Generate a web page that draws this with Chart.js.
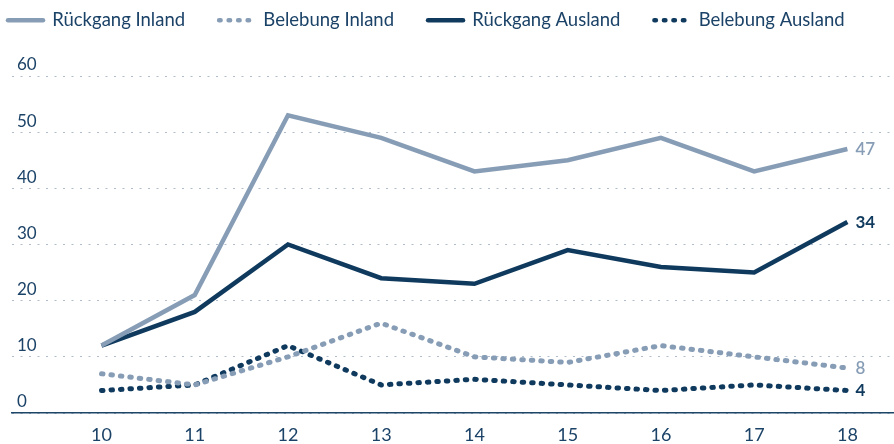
<!DOCTYPE html>
<html lang="de">
<head>
<meta charset="utf-8">
<script src="https://cdn.jsdelivr.net/npm/chart.js@4.4.0/dist/chart.umd.min.js"></script>
<style>
  html, body { margin: 0; padding: 0; background: #ffffff; }
  #wrap { width: 894px; height: 444px; }
</style>
</head>
<body>
<div id="wrap"><canvas id="chart" width="894" height="444"></canvas></div>
<script>
// Daten
const years = [10, 11, 12, 13, 14, 15, 16, 17, 18];
const rueckgangInland = [12, 21, 53, 49, 43, 45, 49, 43, 47];
const belebungInland = [7, 5, 10, 16, 10, 9, 12, 10, 8];
const rueckgangAusland = [12, 18, 30, 24, 23, 29, 26, 25, 34];
const belebungAusland = [4, 5, 12, 5, 6, 5, 4, 5, 4];
const yTicks = [0, 10, 20, 30, 40, 50, 60];

// Farben
const LIGHT = '#879db6';
const DARK = '#0f3a5e';
const TEXT = '#1b4267';
const GRID = '#aebccb';
const FONT = 'Lato, "Noto Sans", sans-serif';

function toPoints(values) {
    return values.map((v, i) => ({ x: years[i], y: v }));
}

function series(label, values, color, dotted, endBold) {
    return {
        label: label,
        data: toPoints(values),
        borderColor: color,
        backgroundColor: color,
        borderWidth: dotted ? 5 : 4.5,
        borderDash: dotted ? [1.5, 8] : [],
        borderCapStyle: dotted ? 'round' : 'butt',
        borderJoinStyle: 'miter',
        pointRadius: 0,
        pointHoverRadius: 0,
        tension: 0,
        fill: false,
        endBold: endBold
    };
}

// Wert am Linienende anzeigen
const endLabels = {
    id: 'endLabels',
    afterDatasetsDraw(chart) {
        const ctx = chart.ctx;
        ctx.save();
        chart.data.datasets.forEach((ds, i) => {
            const meta = chart.getDatasetMeta(i);
            const last = meta.data[meta.data.length - 1];
            const value = ds.data[ds.data.length - 1].y;
            ctx.font = (ds.endBold ? 'bold ' : '600 ') + '17px ' + FONT;
            ctx.fillStyle = ds.borderColor;
            ctx.textAlign = 'left';
            ctx.textBaseline = 'middle';
            ctx.fillText(String(value), last.x + 8, last.y);
        });
        ctx.restore();
    }
};

// Legende: eine Zeile, feste Höhe, nach oben links verschoben
const legendPlace = {
    id: 'legendPlace',
    beforeLayout(chart) {
        const lg = chart.legend;
        if (lg && !lg._patched) {
            const fit = lg.fit;
            lg.fit = function () {
                this.maxWidth = 2000;
                fit.call(this);
                this.height = 76;
            };
            lg._patched = true;
        }
    },
    afterLayout(chart) {
        const lg = chart.legend;
        if (!lg) return;
        lg.top -= 23; lg.bottom -= 23;
        lg.left -= 28;
    }
};

new Chart(document.getElementById('chart').getContext('2d'), {
    type: 'line',
    data: {
        datasets: [
            series('Rückgang Inland', rueckgangInland, LIGHT, false, false),
            series('Belebung Inland', belebungInland, LIGHT, true, false),
            series('Rückgang Ausland', rueckgangAusland, DARK, false, true),
            series('Belebung Ausland', belebungAusland, DARK, true, true)
        ]
    },
    options: {
        responsive: false,
        animation: false,
        layout: { padding: { left: 2, right: 0, top: 0, bottom: -13 } },
        plugins: {
            tooltip: { enabled: false },
            legend: {
                position: 'top',
                align: 'start',
                labels: {
                    usePointStyle: true,
                    pointStyleWidth: 35,
                    boxHeight: 17,
                    padding: 34,
                    color: TEXT,
                    font: { family: FONT, size: 18.5 },
                    generateLabels(chart) {
                        return chart.data.datasets.map((ds, i) => ({
                            text: ds.label,
                            datasetIndex: i,
                            pointStyle: 'line',
                            strokeStyle: ds.borderColor,
                            fillStyle: ds.borderColor,
                            lineWidth: 4.5,
                            lineDash: ds.borderDash,
                            lineCap: 'round',
                            fontColor: TEXT,
                            hidden: false
                        }));
                    }
                }
            }
        },
        scales: {
            x: {
                type: 'linear',
                min: 9.04,
                max: 18.5,
                afterBuildTicks(scale) {
                    scale.ticks = years.map(v => ({ value: v }));
                },
                grid: { display: false, drawTicks: false },
                border: { display: true, color: '#1d4568', width: 1.5 },
                ticks: {
                    color: TEXT,
                    font: { family: FONT, size: 18, lineHeight: 1 },
                    padding: 13,
                    maxRotation: 0
                }
            },
            y: {
                min: 0,
                max: 60,
                afterBuildTicks(scale) {
                    scale.ticks = yTicks.map(v => ({ value: v }));
                },
                afterFit(scale) {
                    scale.paddingTop = 0;
                    scale.paddingBottom = 0;
                },
                border: { display: false, dash: [2, 6.5] },
                grid: {
                    color: GRID,
                    lineWidth: 1,
                    drawTicks: false,
                    tickLength: 0
                },
                ticks: {
                    mirror: true,
                    padding: 5,
                    labelOffset: -11,
                    color: TEXT,
                    font: { family: FONT, size: 17 }
                }
            }
        }
    },
    plugins: [endLabels, legendPlace]
});
</script>
</body>
</html>
